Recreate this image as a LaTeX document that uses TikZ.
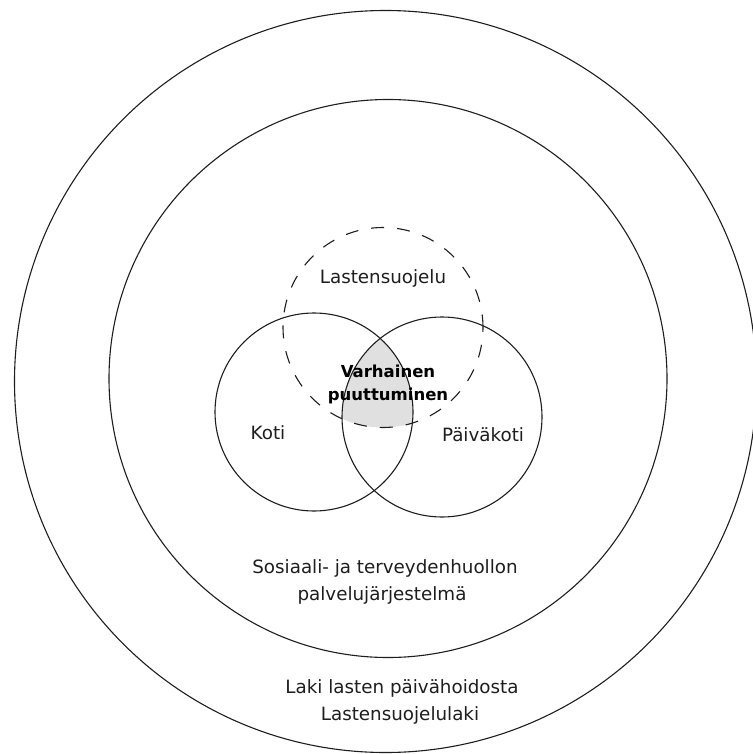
\documentclass[tikz,border=0pt]{standalone}
\usepackage{fontspec}
\setmainfont{DejaVu Sans}
\definecolor{ink}{RGB}{30,30,30}
\definecolor{lightfill}{RGB}{224,224,224}
\begin{document}
\begin{tikzpicture}[x=1pt,y=-1pt,
  ring/.style={circle,draw=ink,line width=1.1pt,inner sep=0pt,minimum size=#1},
  dashring/.style={ring=#1,dash pattern=on 13pt off 13pt},
  lbl/.style={inner sep=0pt,anchor=base,text=ink,font=\fontsize{18.3}{22}\selectfont},
  blbl/.style={inner sep=0pt,anchor=base,text=black,font=\fontsize{16.5}{20}\selectfont\bfseries}]
\useasboundingbox (0,0) rectangle (752,754);
\fill[white] (0,0) rectangle (752,754);
% centres
\coordinate (ck) at (314,412);
\coordinate (cp) at (442,417);
\coordinate (cl) at (383,327.5);
% shaded common region
\begin{scope}
  \clip (ck) circle[radius=99pt];
  \clip (cp) circle[radius=100pt];
  \fill[lightfill] (cl) circle[radius=100pt];
\end{scope}
% circles
\node[ring=742pt] (outer) at (385.5,381.5) {};
\node[ring=558pt] (inner) at (388,378.5) {};
\node[ring=198pt] (koti) at (ck) {};
\node[ring=200pt] (paiva) at (cp) {};
\node[dashring=200pt] (lasten) at (cl) {};
% labels
\node[lbl] (tl) at (383,283) {Lastensuojelu};
\node[blbl] (tv1) at (388,377) {Varhainen};
\node[blbl] (tv2) at (388,400) {puuttuminen};
\node[lbl] (tk) at (268,439) {Koti};
\node[lbl] (tp) at (483,441) {Päiväkoti};
\node[lbl] (ts1) at (385,573) {Sosiaali- ja terveydenhuollon};
\node[lbl] (ts2) at (382,600) {palvelujärjestelmä};
\node[lbl] (tl1) at (402,693) {Laki lasten päivähoidosta};
\node[lbl] (tl2) at (400,720) {Lastensuojelulaki};
\end{tikzpicture}
\end{document}
